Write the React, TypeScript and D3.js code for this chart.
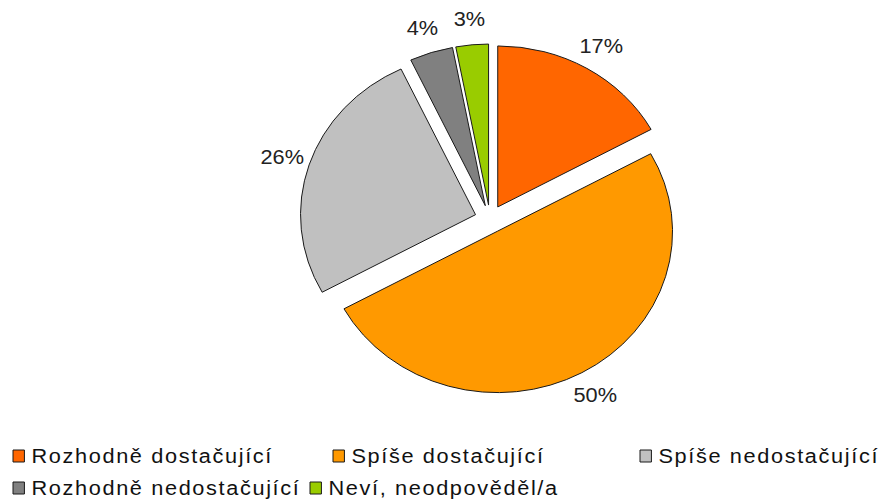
import React from "react";
import * as d3 from "d3";

const categories = [
  "Rozhodně dostačující",
  "Spíše dostačující",
  "Spíše nedostačující",
  "Rozhodně nedostačující",
  "Neví, neodpověděl/a",
];
const values = [17, 50, 26, 4, 3];
const labels = ["17%", "50%", "26%", "4%", "3%"];
const colors = ["#FF6600", "#FF9900", "#C0C0C0", "#808080", "#99CC00"];

const W = 895;
const H = 500;
const SX = 1.087; // horizontal stretch of the original picture
const CX = 490;
const CY = 219;
const R = 161;
const EXPLODE = 14;
const LABEL_R = 201;

// legend layout (screen x of marker, row index)
const legendX = [13, 333, 640, 13, 310];
const legendRow = [0, 0, 0, 1, 1];
const rowY = [456, 488];

export default function App() {
  const pie = d3
    .pie<number>()
    .value((d) => d)
    .sort(null)
    .startAngle(0)
    .endAngle(2 * Math.PI);
  const arcs = pie(values);
  const arc = d3.arc<d3.PieArcDatum<number>>().innerRadius(0).outerRadius(R);

  return (
    <svg
      width={W}
      height={H}
      style={{ position: "absolute", left: 0, top: 0, background: "#fff" }}
      fontFamily="'Liberation Sans', Arial, sans-serif"
    >
      <rect x={0} y={0} width={W} height={H} fill="#fff" />
      <g transform={`translate(${CX},${CY}) scale(${SX},1)`}>
        {arcs.map((a, i) => {
          const mid = (a.startAngle + a.endAngle) / 2;
          const dx = Math.sin(mid) * EXPLODE;
          const dy = -Math.cos(mid) * EXPLODE;
          return (
            <path
              key={i}
              d={arc(a) || ""}
              transform={`translate(${dx},${dy})`}
              fill={colors[i]}
              stroke="#1a1a1a"
              strokeWidth={1}
              vectorEffect="non-scaling-stroke"
              strokeLinejoin="miter"
            />
          );
        })}
        {arcs.map((a, i) => {
          const mid = (a.startAngle + a.endAngle) / 2;
          const x = Math.sin(mid) * LABEL_R;
          const y = -Math.cos(mid) * LABEL_R;
          return (
            <text
              key={"l" + i}
              x={x}
              y={y}
              textAnchor="middle"
              dominantBaseline="central"
              fontSize={20}
              fill="#222"
            >
              {labels[i]}
            </text>
          );
        })}
      </g>
      <g transform={`scale(${SX},1)`}>
        {categories.map((c, i) => {
          const x = legendX[i] / SX;
          const y = rowY[legendRow[i]];
          return (
            <g key={"lg" + i}>
              <rect
                x={x}
                y={y - 6}
                width={10.5}
                height={12}
                fill={colors[i]}
                stroke="#1a1a1a"
                strokeWidth={1}
                vectorEffect="non-scaling-stroke"
              />
              <text
                x={x + 17}
                y={y}
                dominantBaseline="central"
                fontSize={20}
                letterSpacing={1.5}
                fill="#111"
              >
                {c}
              </text>
            </g>
          );
        })}
      </g>
    </svg>
  );
}
